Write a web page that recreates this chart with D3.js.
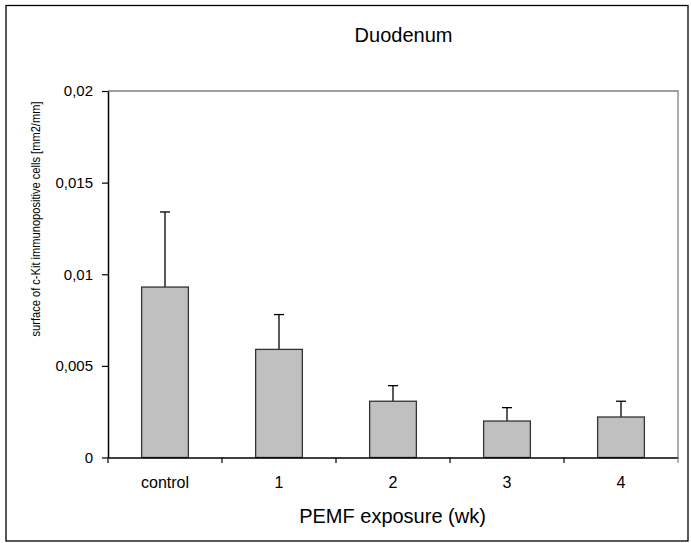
<!DOCTYPE html>
<html>
<head>
<meta charset="utf-8">
<script src="https://cdn.jsdelivr.net/npm/d3@7"></script>
<style>
  body { margin: 0; background: #fff; }
  svg text { font-family: "Liberation Sans", Arial, sans-serif; fill: #000; }
</style>
</head>
<body>
<svg width="691" height="543"></svg>
<script>
const categories = ['control', '1', '2', '3', '4'];
const means = [0.0093, 0.0059, 0.00307, 0.00199, 0.00221];
const sds = [0.0041, 0.0019, 0.00085, 0.00073, 0.00086];
const yTicks = [0, 0.005, 0.01, 0.015, 0.02];
const yTickLabels = ['0', '0,005', '0,01', '0,015', '0,02'];

const svg = d3.select('svg');

const plot = { left: 108, right: 678, top: 91, bottom: 457.5 };

// outer chart frame
svg.append('rect')
  .attr('x', 6).attr('y', 5.5)
  .attr('width', 682).attr('height', 535.5)
  .attr('fill', 'none')
  .attr('stroke', '#000')
  .attr('stroke-width', 1.3);

const xScale = d3.scaleBand()
  .domain(categories)
  .range([plot.left, plot.right])
  .padding(0);

const yScale = d3.scaleLinear()
  .domain([0, 0.02])
  .range([plot.bottom, plot.top]);

// plot area border (top/right gray)
svg.append('path')
  .attr('d', `M${plot.left},${plot.top}H${plot.right}V${plot.bottom}`)
  .attr('fill', 'none')
  .attr('stroke', '#808080')
  .attr('stroke-width', 1.3);

// bars
const data = categories.map((c, i) => ({ c, m: means[i], sd: sds[i] }));
const barW = xScale.bandwidth() * 0.41;

// error bars
const eg = svg.append('g');
eg.selectAll('line.err').data(data).enter().append('line')
  .attr('x1', d => xScale(d.c) + xScale.bandwidth() / 2)
  .attr('x2', d => xScale(d.c) + xScale.bandwidth() / 2)
  .attr('y1', d => yScale(d.m))
  .attr('y2', d => yScale(d.m + d.sd))
  .attr('stroke', '#000').attr('stroke-width', 1.3);
eg.selectAll('line.cap').data(data).enter().append('line')
  .attr('x1', d => xScale(d.c) + xScale.bandwidth() / 2 - 5)
  .attr('x2', d => xScale(d.c) + xScale.bandwidth() / 2 + 5)
  .attr('y1', d => yScale(d.m + d.sd))
  .attr('y2', d => yScale(d.m + d.sd))
  .attr('stroke', '#000').attr('stroke-width', 1.3);

svg.append('g').selectAll('rect').data(data).enter().append('rect')
  .attr('x', d => xScale(d.c) + (xScale.bandwidth() - barW) / 2)
  .attr('y', d => yScale(d.m))
  .attr('width', barW)
  .attr('height', d => yScale(0) - yScale(d.m))
  .attr('fill', '#c0c0c0')
  .attr('stroke', '#333')
  .attr('stroke-width', 1.3);

// y axis
const yAxis = d3.axisLeft(yScale)
  .tickValues(yTicks)
  .tickFormat((d, i) => yTickLabels[i])
  .tickSizeInner(6)
  .tickSizeOuter(0)
  .tickPadding(9);

const yAxisG = svg.append('g')
  .attr('transform', `translate(${plot.left},0)`)
  .call(yAxis);
yAxisG.select('.domain').attr('stroke', '#000').attr('stroke-width', 1.5);
yAxisG.selectAll('.tick line').attr('stroke', '#000').attr('stroke-width', 1.2);
yAxisG.selectAll('.tick text')
  .attr('font-size', '15px')
  .attr('font-family', '"Liberation Sans", Arial, sans-serif')
  .attr('dy', '0.33em');

// x axis
const xAxis = d3.axisBottom(xScale).tickSize(0).tickPadding(0);
const xAxisG = svg.append('g')
  .attr('transform', `translate(0,${plot.bottom})`)
  .call(xAxis);
xAxisG.select('.domain').attr('stroke', '#000').attr('stroke-width', 1.5);
xAxisG.selectAll('.tick text')
  .attr('font-size', '16px')
  .attr('font-family', '"Liberation Sans", Arial, sans-serif')
  .attr('y', 30)
  .attr('dy', 0);

// category boundary ticks
const bounds = categories.map(c => xScale(c)).concat([plot.right]);
xAxisG.selectAll('line.bound').data(bounds).enter().append('line')
  .attr('class', 'bound')
  .attr('x1', d => d).attr('x2', d => d)
  .attr('y1', 0).attr('y2', 5.5)
  .attr('stroke', (d, i) => i === bounds.length - 1 ? '#808080' : '#000')
  .attr('stroke-width', 1.2);

// title
svg.append('text')
  .attr('x', 403.5)
  .attr('y', 42)
  .attr('text-anchor', 'middle')
  .attr('font-size', '20px')
  .text('Duodenum');

// x axis title
svg.append('text')
  .attr('x', 392.5)
  .attr('y', 523)
  .attr('text-anchor', 'middle')
  .attr('font-size', '20px')
  .text('PEMF exposure (wk)');

// y axis title
svg.append('text')
  .attr('transform', 'rotate(-90)')
  .attr('x', -219)
  .attr('y', 39.5)
  .attr('text-anchor', 'middle')
  .attr('font-size', '12.8px')
  .attr('textLength', 235)
  .attr('lengthAdjust', 'spacingAndGlyphs')
  .text('surface of c-Kit immunopositive cells [mm2/mm]');
</script>
</body>
</html>
